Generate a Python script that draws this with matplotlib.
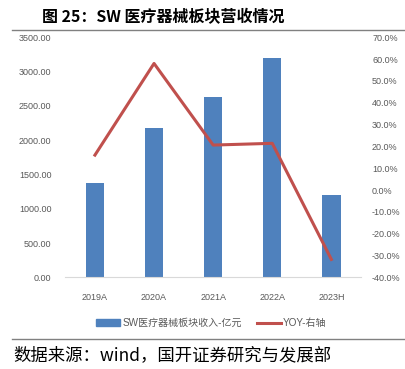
import matplotlib.pyplot as plt
from matplotlib.lines import Line2D
from matplotlib.patches import Patch

plt.rcParams['font.family'] = ['Liberation Sans', 'Noto Sans CJK SC', 'DejaVu Sans']

# data
years = ['2019A', '2020A', '2021A', '2022A', '2023H']
revenue = [1375, 2181, 2633, 3193, 1200]      # 亿元
yoy = [16.0, 58.0, 20.6, 21.4, -31.8]         # %

bar_color = '#4F81BD'
line_color = '#C0504D'
tick_color = '#595959'

fig = plt.figure(figsize=(4.06, 3.69), dpi=100)
ax = fig.add_axes([0.161, 0.2485, 0.728, 0.6505])
x = range(len(years))
ax.bar(x, revenue, width=0.31, color=bar_color, zorder=2)
ax.set_xlim(-0.5, len(years) - 0.5)
ax.set_ylim(0, 3500)
ax.set_yticks(range(0, 3501, 500))
ax.set_yticklabels([f'{v:.2f}' for v in range(0, 3501, 500)])
ax.set_xticks(list(x))
ax.set_xticklabels(years)
ax.tick_params(axis='both', length=0, labelsize=6.5, colors=tick_color)
ax.tick_params(axis='y', pad=10)
ax.tick_params(axis='x', pad=11)
for s in ['top', 'right', 'left']:
    ax.spines[s].set_visible(False)
ax.spines['bottom'].set_color('#D9D9D9')
ax.spines['bottom'].set_linewidth(0.8)

ax2 = ax.twinx()
ax2.plot(list(x), yoy, color=line_color, linewidth=2.2, zorder=3)
ax2.set_ylim(-40, 70)
ax2.set_yticks(range(-40, 71, 10))
ax2.set_yticklabels([f'{v:.1f}%' for v in range(-40, 71, 10)])
ax2.tick_params(axis='y', length=0, labelsize=6.5, colors=tick_color, pad=8)
for s in ['top', 'right', 'left', 'bottom']:
    ax2.spines[s].set_visible(False)

handles = [Patch(color=bar_color), Line2D([0], [0], color=line_color, linewidth=2.2)]
labels = ['SW医疗器械板块收入-亿元', 'YOY-右轴']
fig.legend(handles, labels, loc='center', bbox_to_anchor=(0.52, 0.125), ncol=2,
           frameon=False, fontsize=7.2, labelcolor=tick_color,
           handlelength=2.4, handleheight=0.6, columnspacing=1.5, handletextpad=0.2)

# title, frame lines and source note
fig.text(0.103, 0.953, '图 25：SW 医疗器械板块营收情况', fontsize=11.5, fontweight='bold',
         va='center', ha='left', family=['Noto Sans CJK SC', 'DejaVu Sans'])
fig.add_artist(Line2D([0.03, 1.0], [0.919, 0.919], color='#808080', linewidth=1.0))
fig.add_artist(Line2D([0.03, 1.0], [0.081, 0.081], color='#808080', linewidth=1.0))
fig.text(0.034, 0.038, '数据来源：wind，国开证券研究与发展部', fontsize=12.5,
         va='center', ha='left', family=['Noto Sans CJK SC', 'DejaVu Sans'])

fig.savefig('out.png', dpi=100)
